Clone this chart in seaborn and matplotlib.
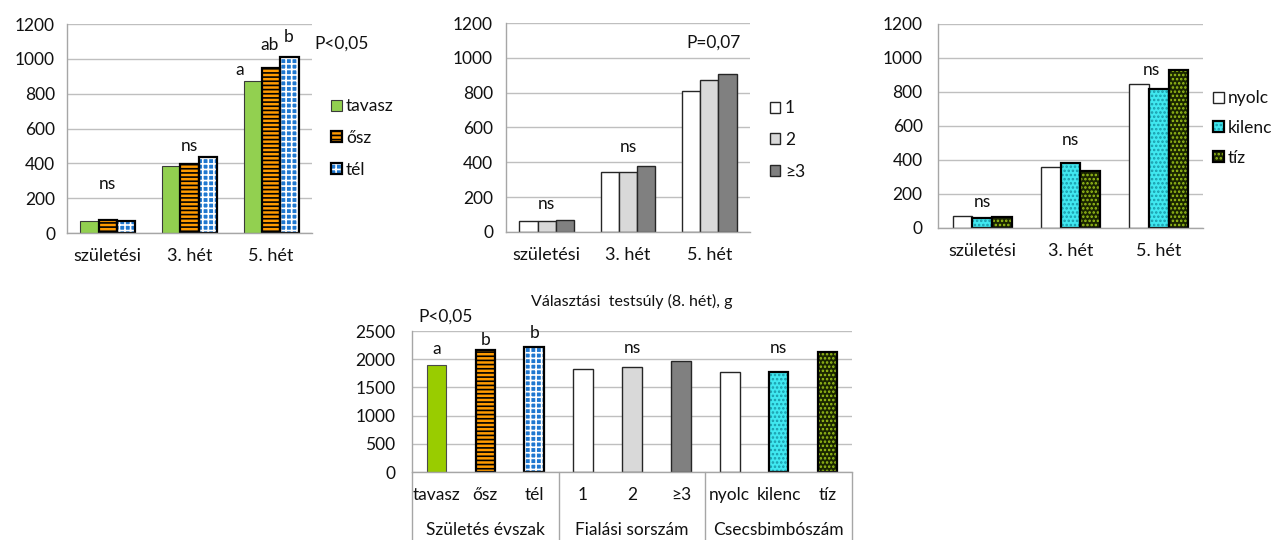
import numpy as np
import pandas as pd
import matplotlib
matplotlib.use('Agg')
import matplotlib.pyplot as plt
from matplotlib.patches import Rectangle, Patch
from matplotlib.legend_handler import HandlerTuple
from matplotlib.transforms import blended_transform_factory
import seaborn as sns

# ---------------- data ----------------
periods = ['születési', '3. hét', '5. hét']

season_groups = ['tavasz', 'ősz', 'tél']
season_tavasz = [68, 385, 870]
season_osz = [75, 395, 950]
season_tel = [70, 435, 1010]

parity_groups = ['1', '2', '≥3']
parity_1 = [65, 345, 810]
parity_2 = [65, 345, 870]
parity_3 = [70, 380, 905]

teat_groups = ['nyolc', 'kilenc', 'tíz']
teat_8 = [70, 360, 845]
teat_9 = [60, 380, 820]
teat_10 = [65, 335, 930]

wean_labels = season_groups + parity_groups + teat_groups
wean_values = [1900, 2160, 2220, 1820, 1870, 1960, 1780, 1770, 2130]
wean_group_names = ['Születés évszak', 'Fialási sorszám', 'Csecsbimbószám']
wean_group_sizes = [3, 3, 3]
wean_title = 'Választási  testsúly (8. hét), g'

# annotations: (text, x category position, y value)
notes1 = [('ns', 0, 280), ('ns', 1, 500), ('a', 1.62, 935), ('ab', 1.98, 1080), ('b', 2.22, 1125)]
p1 = 'P<0,05'
notes2 = [('ns', 0, 160), ('ns', 1, 488), ('P=0,07', 2.05, 1085)]
notes3 = [('ns', 0, 153), ('ns', 1, 518), ('ns', 1.92, 929)]
notes4 = [('P<0,05', 0.18, 2750), ('a', 0, 2180), ('b', 1, 2340), ('b', 2, 2465),
          ('ns', 4, 2200), ('ns', 7, 2200)]

# ---------------- styles ----------------
STYLE = {
    'tavasz': dict(fc='#92D050', ec='#3a3a3a', lw=0.8),
    'ősz': dict(fc='#FF9A00', hatch='----', hc='black', ec='black', lw=1.6),
    'tél': dict(fc='#1F78D0', hatch='+++', hc='white', ec='black', lw=1.6),
    '1': dict(fc='white', ec='#262626', lw=1.0),
    '2': dict(fc='#D9D9D9', ec='#262626', lw=1.0),
    '≥3': dict(fc='#808080', ec='#262626', lw=1.0),
    'nyolc': dict(fc='white', ec='#262626', lw=1.0),
    'kilenc': dict(fc='#40E8F0', hatch='....', hc='#1A9AAA', ec='black', lw=1.6),
    'tíz': dict(fc='#1A2600', hatch='....', hc='#9CC31A', ec='black', lw=1.6),
}
TXT = '#111111'
GRID = '#BFBFBF'
AXC = '#A6A6A6'
FS = 12.5

sns.set_style('white')
plt.rcParams['font.family'] = ['Lato', 'DejaVu Sans']
plt.rcParams['hatch.linewidth'] = 1.2


def style_bar(ax, p, st):
    p.set_facecolor(st['fc'])
    if st.get('hatch'):
        p.set_hatch(st['hatch'])
        p.set_edgecolor(st['hc'])
        p.set_linewidth(0)
        ax.add_patch(Rectangle(p.get_xy(), p.get_width(), p.get_height(), fill=False,
                               ec=st['ec'], lw=st['lw'], zorder=p.get_zorder() + 0.1))
    else:
        p.set_edgecolor(st['ec'])
        p.set_linewidth(st['lw'])


def handle(st):
    if st.get('hatch'):
        return (Patch(fc=st['fc'], hatch=st['hatch'], ec=st['hc'], lw=0),
                Patch(fill=False, ec=st['ec'], lw=st['lw']))
    return Patch(fc=st['fc'], ec=st['ec'], lw=st['lw'])


def style_axes(ax, ymax, step, ypad):
    ax.set_ylim(0, ymax)
    ax.set_yticks(np.arange(0, ymax + 1, step))
    ax.grid(axis='y', color=GRID, lw=1)
    ax.grid(axis='x', visible=False)
    ax.set_axisbelow(True)
    for s in ['top', 'right']:
        ax.spines[s].set_visible(False)
    for s in ['left', 'bottom']:
        ax.spines[s].set_color(AXC)
        ax.spines[s].set_linewidth(1)
    ax.tick_params(axis='y', length=0, pad=ypad, labelsize=FS, labelcolor=TXT)
    ax.set_xlabel('')
    ax.set_ylabel('')


fig = plt.figure(figsize=(12.76, 5.40), dpi=100)

top_specs = [
    ([0.0525, 0.5685, 0.1920, 0.3870], season_groups, [season_tavasz, season_osz, season_tel], notes1, 8.6, (1.078, 0.455), 0.9),
    ([0.3966, 0.5704, 0.1912, 0.3870], parity_groups, [parity_1, parity_2, parity_3], notes2, 9.4, (1.082, 0.44), 0.9),
    ([0.7351, 0.5778, 0.2077, 0.3778], teat_groups, [teat_8, teat_9, teat_10], notes3, 11.0, (1.038, 0.49), 0.8),
]

for i, (pos, groups, series, notes, ypad, legpos, lspace) in enumerate(top_specs):
    ax = fig.add_axes(pos)
    df = pd.DataFrame({
        'period': periods * len(groups),
        'group': [g for g in groups for _ in periods],
        'value': [v for s in series for v in s],
    })
    sns.barplot(data=df, x='period', y='value', hue='group', order=periods, hue_order=groups,
                width=0.67, errorbar=None, legend=False, ax=ax, saturation=1)
    for g, cont in zip(groups, ax.containers):
        for p in cont.patches:
            style_bar(ax, p, STYLE[g])
    style_axes(ax, 1200, 200, ypad)
    ax.set_xlim(-0.5, len(periods) - 0.5)
    ax.set_xticks(range(len(periods)))
    ax.set_xticklabels(periods)
    ax.set_xticks(np.arange(-0.5, len(periods), 1), minor=True)
    ax.tick_params(axis='x', which='major', length=0, pad=10.5, labelsize=13, labelcolor=TXT)
    ax.tick_params(axis='x', which='minor', length=6, width=1, color=AXC, direction='out')
    for t, x, y in notes:
        ax.text(x, y, t, ha='center', va='center', fontsize=FS, color=TXT)
    if i == 0:
        ax.text(1.12, 0.905, p1, transform=ax.transAxes, ha='center', va='center', fontsize=FS, color=TXT)
    leg = ax.legend([handle(STYLE[g]) for g in groups], groups, loc='center left',
                    bbox_to_anchor=legpos, frameon=False, fontsize=FS,
                    handlelength=0.6, handleheight=0.6, handletextpad=0.25,
                    labelspacing=lspace, borderpad=0, borderaxespad=0,
                    handler_map={tuple: HandlerTuple(ndivide=1, pad=0)})
    for t in leg.get_texts():
        t.set_color(TXT)

# ---------------- bottom chart ----------------
ax = fig.add_axes([0.3229, 0.1259, 0.3448, 0.2611])
sns.barplot(x=wean_labels, y=wean_values, order=wean_labels, width=0.4, errorbar=None,
            ax=ax, color='white', saturation=1)
bottom_style = dict(STYLE)
bottom_style['tavasz'] = dict(fc='#99CC00', ec='#4a4a4a', lw=0.8)
for lab, p in zip(wean_labels, sorted(ax.patches, key=lambda q: q.get_x())):
    style_bar(ax, p, bottom_style[lab])
style_axes(ax, 2500, 500, 12)
ax.set_xlim(-0.5, len(wean_labels) - 0.5)
ax.set_xticks(range(len(wean_labels)))
ax.set_xticklabels(wean_labels)
ax.tick_params(axis='x', length=0, pad=11, labelsize=FS, labelcolor=TXT)
ax.set_title(wean_title, fontsize=11.5, color=TXT, pad=18)
for t, x, y in notes4:
    ax.text(x, y, t, ha='center', va='center', fontsize=FS, color=TXT, clip_on=False)

trans = blended_transform_factory(ax.transData, ax.transAxes)
bounds = np.concatenate([[0], np.cumsum(wean_group_sizes)]) - 0.5
for b in bounds:
    ax.plot([b, b], [0, -0.49], transform=trans, color=AXC, lw=1, clip_on=False)
for name, lo, hi in zip(wean_group_names, bounds[:-1], bounds[1:]):
    ax.text((lo + hi) / 2, -0.355, name, transform=trans, ha='center', va='top',
            fontsize=FS, color=TXT)

fig.savefig('out.png', dpi=100)
